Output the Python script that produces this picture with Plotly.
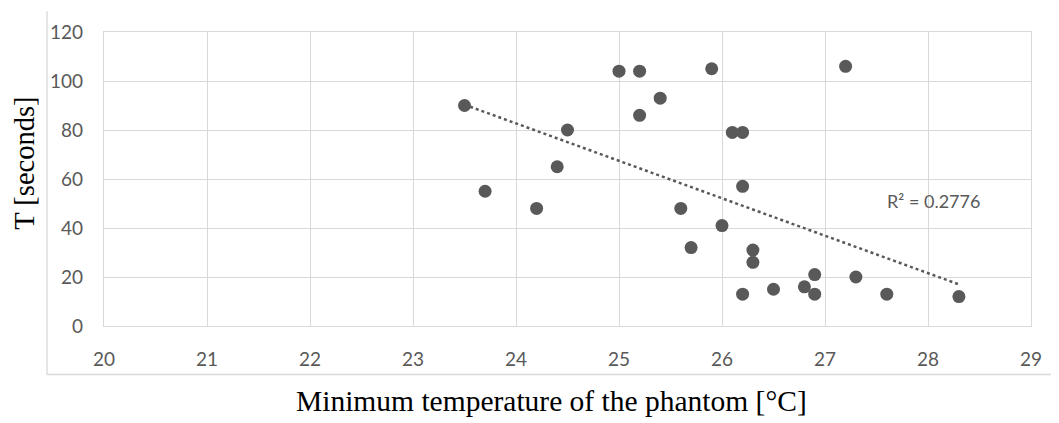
import numpy as np
import plotly.graph_objects as go

# Data
min_temp = [23.5, 23.7, 24.2, 24.4, 24.5, 25.0, 25.2, 25.2, 25.4, 25.6, 25.7, 25.9,
            26.0, 26.1, 26.2, 26.2, 26.2, 26.3, 26.3, 26.5, 26.8, 26.9, 26.9, 27.2,
            27.3, 27.6, 28.3]
t_seconds = [90, 55, 48, 65, 80, 104, 104, 86, 93, 48, 32, 105,
             41, 79, 79, 57, 13, 31, 26, 15, 16, 21, 13, 106,
             20, 13, 12]
x_ticks = [20, 21, 22, 23, 24, 25, 26, 27, 28, 29]
y_ticks = [0, 20, 40, 60, 80, 100, 120]
r2_label = "R² = 0.2776"
x_title = "Minimum temperature of the phantom [°C]"
y_title = "T [seconds]"

# Linear trendline (least squares)
xa = np.array(min_temp)
ya = np.array(t_seconds)
slope, intercept = np.polyfit(xa, ya, 1)
trend_x = [xa.min(), xa.max()]
trend_y = [slope * v + intercept for v in trend_x]

GRAY = "#595959"
GRID = "#d9d9d9"

fig = go.Figure()
fig.add_trace(go.Scatter(x=trend_x, y=trend_y, mode="lines",
                         line=dict(color=GRAY, width=2.5, dash="dot"),
                         hoverinfo="skip", showlegend=False))
fig.add_trace(go.Scatter(x=min_temp, y=t_seconds, mode="markers",
                         marker=dict(color=GRAY, size=13),
                         showlegend=False))

# page body has an 8px margin; lay out in screen pixels, then offset
OFF = 8
W, H = 1059 - OFF, 423 - OFF
L, T = 104 - OFF, 29 - OFF
R = W - (1031 - OFF)
B = H - (326 - OFF)
pw, ph = W - L - R, H - T - B

def px(xp):
    return (xp - OFF - L) / pw

def py(yp):
    return (H - B - (yp - OFF)) / ph

fig.update_layout(
    width=W, height=H,
    margin=dict(l=L, r=R, t=T, b=B),
    paper_bgcolor="white", plot_bgcolor="white",
    showlegend=False,
    xaxis=dict(range=[20, 29], tickvals=x_ticks, showgrid=True, gridcolor=GRID,
               gridwidth=1.3, zeroline=False, showline=True, linecolor=GRID,
               linewidth=1.3, mirror=True, ticks="", ticklabelstandoff=16,
               tickfont=dict(family="Lato", size=19, color=GRAY)),
    yaxis=dict(range=[0, 120], tickvals=y_ticks, showgrid=True, gridcolor=GRID,
               gridwidth=1.3, zeroline=False, showline=True, linecolor=GRID,
               linewidth=1.3, mirror=True, ticks="", ticklabelstandoff=16,
               tickfont=dict(family="Lato", size=19, color=GRAY)),
    annotations=[
        dict(x=28.05, y=51, xref="x", yref="y", text=r2_label, showarrow=False,
             font=dict(family="Lato", size=18, color=GRAY)),
        dict(x=px(551), y=py(402), xref="paper", yref="paper", text=x_title,
             showarrow=False, xanchor="center", yanchor="middle",
             font=dict(family="Liberation Serif", size=29.5, color="#000000")),
        dict(x=px(25), y=py(162), xref="paper", yref="paper", text=y_title,
             showarrow=False, textangle=-90, xanchor="center", yanchor="middle",
             font=dict(family="Liberation Serif", size=28.5, color="#000000")),
    ],
    shapes=[
        dict(type="line", xref="paper", yref="paper", x0=px(47), x1=px(1059),
             y0=py(375), y1=py(375), line=dict(color=GRID, width=1.3)),
        dict(type="line", xref="paper", yref="paper", x0=px(47), x1=px(47),
             y0=py(8), y1=py(375), line=dict(color=GRID, width=1.3)),
    ],
)

fig.write_html("out.html")
